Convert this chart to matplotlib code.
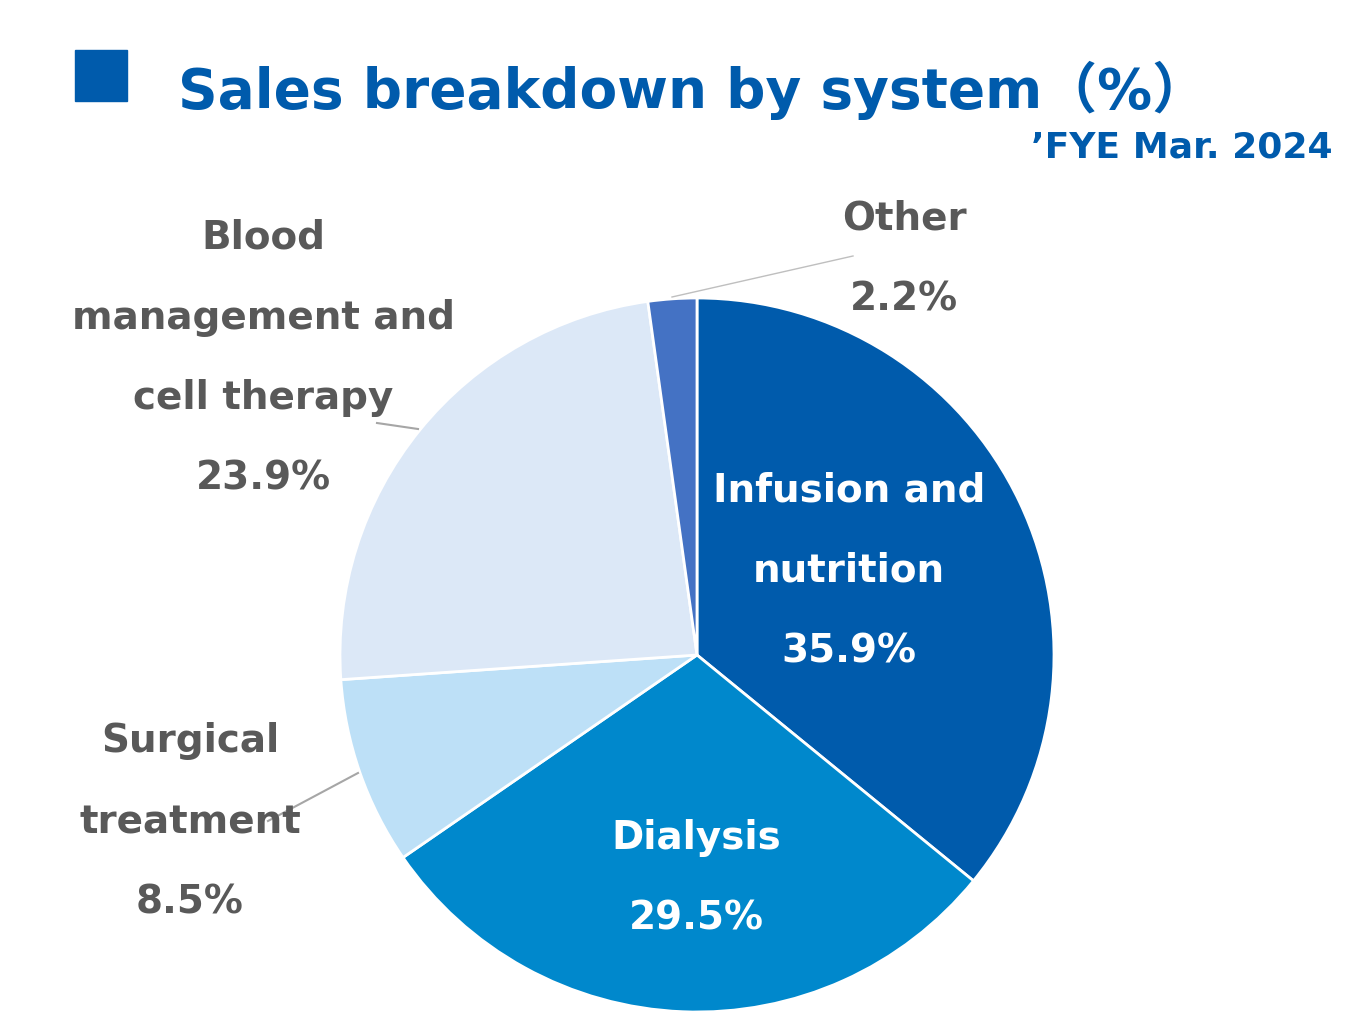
import matplotlib
matplotlib.use("Agg")
from matplotlib import pyplot as plt
from matplotlib.patches import Rectangle

plt.rcParams['font.family'] = ['DejaVu Sans', 'Noto Sans CJK JP']

# data
categories = ["Infusion and\nnutrition", "Dialysis", "Surgical\ntreatment",
              "Blood\nmanagement and\ncell therapy", "Other"]
shares = [35.9, 29.5, 8.5, 23.9, 2.2]
colors = ["#005BAC", "#0088CC", "#BDE0F7", "#DCE8F7", "#4472C4"]

W, H = 1357, 1023
BLUE = "#005BAC"
GREY = "#595959"

fig = plt.figure(figsize=(W/100, H/100), dpi=100)
ax = fig.add_axes([0, 0, 1, 1])

def Y(y):
    return H - y

ax.pie(shares, colors=colors, startangle=90, counterclock=False,
       center=(697, Y(655)), radius=357,
       wedgeprops=dict(edgecolor="white", linewidth=2))

ax.set_xlim(0, W)
ax.set_ylim(0, H)
ax.set_aspect("auto")
ax.axis("off")

# title
ax.add_patch(Rectangle((75, Y(101)), 52, 51, color=BLUE))
ax.text(178, Y(108), "Sales breakdown by system（%）", fontsize=39.5,
        fontweight="bold", color=BLUE, ha="left", va="baseline")
ax.text(1333, Y(157), "’FYE Mar. 2024", fontsize=26, fontweight="bold",
        color=BLUE, ha="right", va="baseline")

# labels
lab = [f"{c}\n{v}%" for c, v in zip(categories, shares)]
pos = [(849, 571, "white"), (696, 878, "white"), (190, 822, GREY),
       (263, 358, GREY), (904, 259, GREY)]
for t, (x, y, col) in zip(lab, pos):
    ax.text(x, Y(y), t, fontsize=28, fontweight="bold", color=col,
            ha="center", va="center", linespacing=2.42)

# leader lines
ax.plot([672, 853], [Y(297), Y(256)], color="#BFBFBF", lw=1)
ax.plot([377, 418], [Y(423), Y(429)], color="#A6A6A6", lw=1.5)
ax.plot([358, 268], [Y(773), Y(821)], color="#A6A6A6", lw=1.5)

fig.savefig("out.png", dpi=100)
